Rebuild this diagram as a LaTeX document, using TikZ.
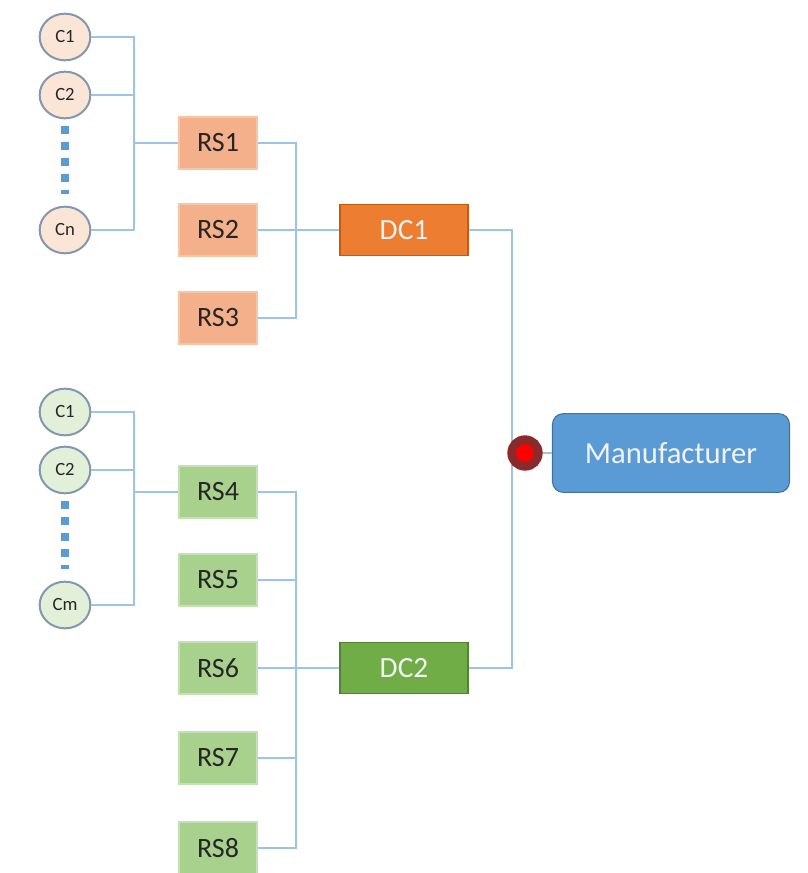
\documentclass[tikz,border=0pt]{standalone}
\usepackage{fontspec}
\setmainfont{Carlito}
\usetikzlibrary{shapes.geometric}
\definecolor{wire}{HTML}{9DC3E6}
\definecolor{dotblue}{HTML}{5B9BD5}
\definecolor{rsor}{HTML}{F4B08A}
\definecolor{rsorb}{HTML}{F7C6A8}
\definecolor{dcor}{HTML}{ED7D31}
\definecolor{dcorb}{HTML}{C55A11}
\definecolor{rsgr}{HTML}{A9D18E}
\definecolor{rsgrb}{HTML}{C5E0B4}
\definecolor{dcgr}{HTML}{70AD47}
\definecolor{dcgrb}{HTML}{548235}
\definecolor{cor}{HTML}{FBE5D6}
\definecolor{cgr}{HTML}{E2F0D9}
\definecolor{cbord}{HTML}{8497B0}
\definecolor{mfb}{HTML}{5B9BD5}
\definecolor{mfbb}{HTML}{41719C}
\definecolor{txt}{HTML}{262626}
\definecolor{dotred}{HTML}{8B2A2A}
\tikzset{
  cust/.style={ellipse, draw=cbord, line width=1.5pt, minimum width=38pt, minimum height=35pt, inner sep=0pt, text=txt, font=\fontsize{14}{14}\selectfont},
  custor/.style={cust, fill=cor},
  custgr/.style={cust, fill=cgr},
  rsbox/.style={rectangle, line width=0.8pt, minimum width=58.5pt, minimum height=39pt, inner sep=0pt, text=txt, font=\fontsize{21}{21}\selectfont},
  rsorbox/.style={rsbox, fill=rsor, draw=rsorb},
  rsgrbox/.style={rsbox, fill=rsgr, draw=rsgrb},
  dcbox/.style={rectangle, line width=0.8pt, minimum width=96pt, minimum height=38pt, inner sep=0pt, text=white!95!black, font=\fontsize{22}{22}\selectfont},
  dcorbox/.style={dcbox, fill=dcor, draw=dcorb},
  dcgrbox/.style={dcbox, fill=dcgr, draw=dcgrb},
  mfbox/.style={rectangle, rounded corners=8pt, fill=mfb, draw=mfbb, line width=0.8pt, minimum width=177.75pt, minimum height=59pt, inner sep=0pt, text=white!95!black, font=\fontsize{23}{23}\selectfont},
  wireline/.style={draw=wire, line width=1.3pt},
  dotline/.style={draw=dotblue, line width=6pt, dash pattern=on 6pt off 6pt}
}
\begin{document}
\begin{tikzpicture}[x=0.75pt, y=-0.75pt]
\useasboundingbox (0,0) rectangle (807,873);
% orange group
\node[custor] (c1a) at (65,37) {C1};
\node[custor] (c2a) at (65,95) {C2};
\node[custor] (cna) at (65,230) {Cn};
\node[rsorbox] (rs1) at (218,143) {RS1};
\node[rsorbox] (rs2) at (218,230) {RS2};
\node[rsorbox] (rs3) at (218,318) {RS3};
\node[dcorbox] (dc1) at (404,230) {DC1};
% green group
\node[custgr] (c1b) at (65,412) {C1};
\node[custgr] (c2b) at (65,470) {C2};
\node[custgr] (cmb) at (65,605) {Cm};
\node[rsgrbox] (rs4) at (218,492) {RS4};
\node[rsgrbox] (rs5) at (218,580) {RS5};
\node[rsgrbox] (rs6) at (218,668) {RS6};
\node[rsgrbox] (rs7) at (218,758) {RS7};
\node[rsgrbox] (rs8) at (218,848) {RS8};
\node[dcgrbox] (dc2) at (404,668) {DC2};
% manufacturer
\node[mfbox] (mf) at (671,453) {Manufacturer};
% bus coordinates
\coordinate (b1) at (134,143);
\coordinate (b2) at (296,230);
\coordinate (b3) at (512,453);
\coordinate (b4) at (134,492);
\coordinate (b5) at (296,668);
% orange wires
\draw[wireline] (c1a.east) -| (b1);
\draw[wireline] (cna.east) -| (b1);
\draw[wireline] (c2a.east) -- (c2a.east -| b1);
\draw[wireline] (b1) -- (rs1.west);
\draw[wireline] (rs1.east) -| (b2);
\draw[wireline] (rs3.east) -| (b2);
\draw[wireline] (rs2.east) -- (dc1.west);
% green wires
\draw[wireline] (c1b.east) -| (b4);
\draw[wireline] (cmb.east) -| (b4);
\draw[wireline] (c2b.east) -- (c2b.east -| b4);
\draw[wireline] (b4) -- (rs4.west);
\draw[wireline] (rs4.east) -| (b5);
\draw[wireline] (rs8.east) -| (b5);
\draw[wireline] (rs5.east) -- (rs5.east -| b5);
\draw[wireline] (rs7.east) -- (rs7.east -| b5);
\draw[wireline] (rs6.east) -- (dc2.west);
% to manufacturer
\draw[wireline] (dc1.east) -| (b3);
\draw[wireline] (dc2.east) -| (b3);
\draw[wireline] (b3) -- (mf.west);
\node[circle, fill=red, draw=dotred, line width=6.5pt, minimum size=20pt, inner sep=0pt] (dot) at (525,453) {};
% dotted ellipses
\draw[dotline, shorten <=5pt, shorten >=9pt] (c2a.south) -- (cna.north);
\draw[dotline, shorten <=5pt, shorten >=9pt] (c2b.south) -- (cmb.north);
\end{tikzpicture}
\end{document}
